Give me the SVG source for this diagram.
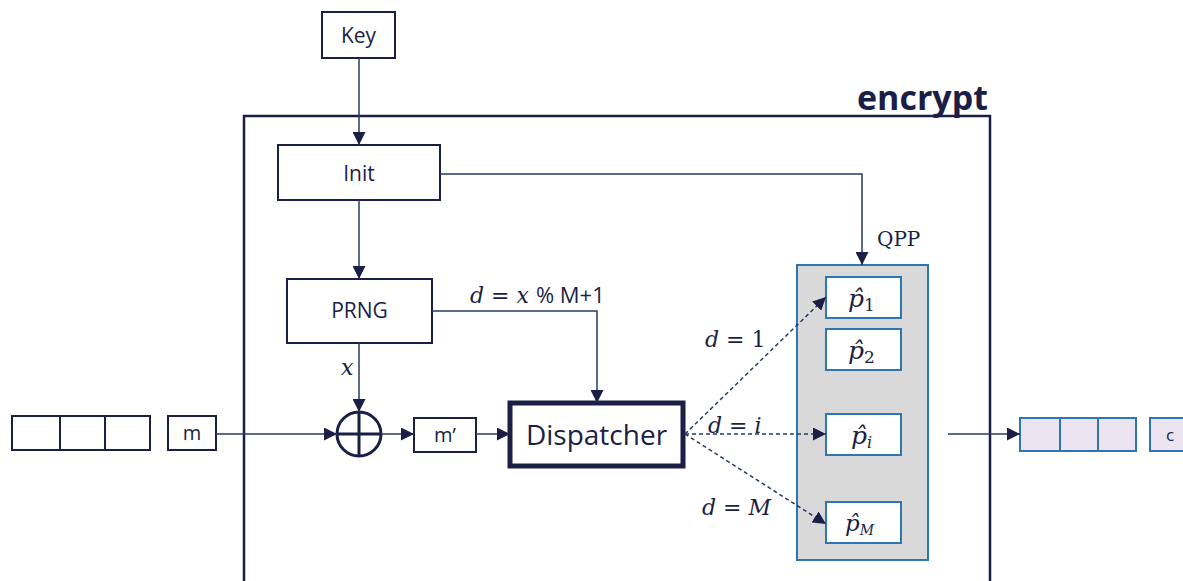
<svg xmlns="http://www.w3.org/2000/svg" width="1183" height="581" viewBox="0 0 1183 581">
<defs>
<marker id="ah" viewBox="0 0 10 10" refX="10" refY="5" markerWidth="13" markerHeight="13" markerUnits="userSpaceOnUse" orient="auto"><path d="M0,0 L10,5 L0,10 z" fill="#1b1f45"/></marker>
</defs>
<style>
.bx{fill:#fff;stroke:#1b1f45;stroke-width:2}
.lb{font-family:"Open Sans","Noto Sans",sans-serif;fill:#1b1f45;text-anchor:middle}
.mt{font-family:"DejaVu Serif","Liberation Serif",serif;font-style:italic;font-size:22px;fill:#1b1f45}
.up{font-family:"DejaVu Serif","Liberation Serif",serif;font-size:20px;fill:#1b1f45}
.ln{fill:none;stroke:#2a3a66;stroke-width:1.5}
.ds{fill:none;stroke:#2a3a66;stroke-width:1.5;stroke-dasharray:4 3}
.qb{fill:#fff;stroke:#2e75b6;stroke-width:2}
.oc{fill:#ebe3ef;stroke:#2e75b6;stroke-width:2}
</style>
<rect width="1183" height="581" fill="#fff"/>
<g id="encrypt">
<rect x="244" y="116" width="746" height="480" fill="none" stroke="#1b1f45" stroke-width="2.5"/>
<text x="988" y="110" font-family="Open Sans, sans-serif" font-weight="bold" font-size="34" fill="#1b1f45" text-anchor="end">encrypt</text>
</g>
<g id="key"><rect class="bx" x="322" y="12" width="73" height="46"/><text class="lb" x="358.5" y="43" style="font-size:21px">Key</text></g>
<g id="init"><rect class="bx" x="278" y="145" width="162" height="55"/><text class="lb" x="359" y="181" style="font-size:21px">Init</text></g>
<g id="prng"><rect class="bx" x="287" y="279" width="145" height="64"/><text class="lb" x="359.5" y="318" style="font-size:21px">PRNG</text></g>
<g id="xor"><circle cx="359" cy="434" r="22" fill="#fff" stroke="#1b1f45" stroke-width="3"/><path d="M337,434 H381 M359,412 V456" stroke="#1b1f45" stroke-width="3"/></g>
<g id="input-queue"><rect class="bx" x="12" y="416" width="138" height="34"/><path d="M60,416 V450 M105,416 V450" stroke="#1b1f45" stroke-width="2"/></g>
<g id="m"><rect class="bx" x="168" y="416" width="48" height="34"/><text class="lb" x="192" y="440" style="font-size:20px">m</text></g>
<g id="mprime"><rect class="bx" x="414" y="418" width="62" height="34"/><text class="lb" x="445" y="442" style="font-size:20px">m’</text></g>
<g id="dispatcher"><rect x="510" y="403" width="173" height="63" fill="#fff" stroke="#1b1f45" stroke-width="5"/><text class="lb" x="596.5" y="445" style="font-size:28px">Dispatcher</text></g>
<g id="qpp">
<rect x="797" y="265" width="131" height="295" fill="#d9d9d9" stroke="#2e75b6" stroke-width="2"/>
<rect class="qb" x="826" y="277" width="75" height="41"/><text class="mt" x="848" y="307" style="font-size:25px">p̂<tspan font-style="normal" style="font-size:17px" dy="4">1</tspan></text>
<rect class="qb" x="826" y="329" width="75" height="41"/><text class="mt" x="848" y="359" style="font-size:25px">p̂<tspan font-style="normal" style="font-size:17px" dy="4">2</tspan></text>
<rect class="qb" x="826" y="414" width="75" height="41"/><text class="mt" x="851" y="444" style="font-size:25px">p̂<tspan style="font-size:16px" dy="4">i</tspan></text>
<rect class="qb" x="826" y="502" width="75" height="41"/><text class="mt" x="845" y="531" style="font-size:23px">p̂<tspan style="font-size:14px" dy="4">M</tspan></text>
</g>
<g id="output-queue"><rect class="oc" x="1020" y="418" width="116" height="33"/><path d="M1060,418 V451 M1098,418 V451" stroke="#2e75b6" stroke-width="2"/></g>
<g id="c"><rect class="oc" x="1150" y="418" width="40" height="33"/><text class="lb" x="1170" y="441" style="font-size:17px">c</text></g>
<g id="connectors">
<path class="ln" d="M359,58 V145" marker-end="url(#ah)"/>
<path class="ln" d="M359,200 V279" marker-end="url(#ah)"/>
<path class="ln" d="M440,174 H862 V265" marker-end="url(#ah)"/>
<path class="ln" d="M432,311 H597 V403" marker-end="url(#ah)"/>
<path class="ln" d="M359,343 V412" marker-end="url(#ah)"/>
<path class="ln" d="M216,434 H337" marker-end="url(#ah)"/>
<path class="ln" d="M381,434 H414" marker-end="url(#ah)"/>
<path class="ln" d="M476,434 H510" marker-end="url(#ah)"/>
<path class="ds" d="M685,434 L826,297" marker-end="url(#ah)"/>
<path class="ds" d="M685,434 H826" marker-end="url(#ah)"/>
<path class="ds" d="M685,434 L826,524" marker-end="url(#ah)"/>
<path class="ln" d="M948,434 H1020" marker-end="url(#ah)"/>
<text class="up" x="877" y="246">QPP</text>
<text class="mt" x="470" y="303">d <tspan font-style="normal">= </tspan>x <tspan font-family="Open Sans, sans-serif" font-style="normal">% M+1</tspan></text>
<text class="mt" x="341" y="375">x</text>
<text class="mt" x="705" y="347">d <tspan font-style="normal">= 1</tspan></text>
<text class="mt" x="708" y="433">d <tspan font-style="normal">= </tspan>i</text>
<text class="mt" x="702" y="515">d <tspan font-style="normal">= </tspan>M</text>
</g>
</svg>
